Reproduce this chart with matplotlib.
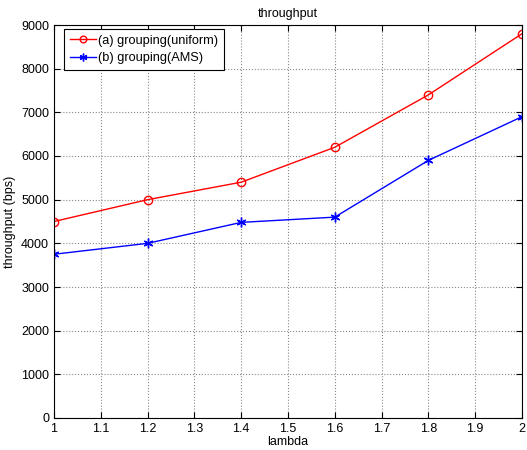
import numpy as np
import matplotlib
matplotlib.use('Agg')
import matplotlib.pyplot as plt

plt.rcParams['font.family'] = ['Liberation Sans', 'DejaVu Sans']

lam = [1.0, 1.2, 1.4, 1.6, 1.8, 2.0]
uniform = [4500, 5000, 5400, 6200, 7400, 8800]
ams = [3750, 4000, 4480, 4600, 5900, 6900]

fig = plt.figure(figsize=(5.27, 4.5), dpi=100)
ax = fig.add_axes([54 / 527, 32 / 450, 468 / 527, 393 / 450])

ax.plot(lam, uniform, color='red', marker='o', markerfacecolor='none',
        markersize=6, linewidth=1, label='(a) grouping(uniform)')
ax.plot(lam, ams, color='blue', marker=(6, 2, 0), markersize=7,
        markeredgewidth=1, linewidth=1, label='(b) grouping(AMS)')

ax.set_xlim(1, 2)
ax.set_ylim(0, 9000)
ax.set_xticks(np.arange(1, 2.01, 0.1))
ax.set_xticklabels(['1', '1.1', '1.2', '1.3', '1.4', '1.5', '1.6', '1.7', '1.8', '1.9', '2'])
ax.set_yticks(np.arange(0, 9001, 1000))
ax.tick_params(direction='in', labelsize=9, length=4, top=True, right=True)
ax.grid(True, linestyle=':', color='#888888', linewidth=0.8)

ax.set_title('throughput', fontsize=9)
ax.set_xlabel('lambda', fontsize=9, labelpad=1)
ax.set_ylabel('throughput (bps)', fontsize=9)

leg = ax.legend(loc='upper left', fontsize=9.2, fancybox=False, framealpha=1,
                edgecolor='black', handlelength=2.1, handletextpad=0.15,
                borderpad=0.45, labelspacing=0.45, markerscale=0.8,
                borderaxespad=0, bbox_to_anchor=(0.021, 0.99))
leg.get_frame().set_linewidth(0.8)

plt.savefig('out.png', dpi=100)
